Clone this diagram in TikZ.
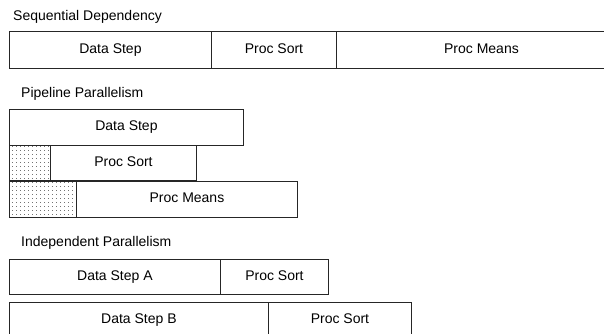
\documentclass[tikz,border=0pt]{standalone}
\usepackage{fontspec}
\setmainfont{Liberation Sans}
\usetikzlibrary{patterns}
\pgfdeclarepatternformonly{stipple}{\pgfpoint{-1pt}{-1pt}}{\pgfpoint{1pt}{1pt}}{\pgfpoint{4pt}{4pt}}{%
  \pgfpathrectangle{\pgfpoint{-0.45pt}{-0.45pt}}{\pgfpoint{0.9pt}{0.9pt}}\pgfusepath{fill}}
\begin{document}
\begin{tikzpicture}[x=1pt,y=-1pt,
  cell/.style={draw=black!85, line width=0.9pt, inner sep=0pt, anchor=north west,
    text height=10pt, text depth=3pt,
    font=\fontsize{14}{16}\selectfont},
  ttl/.style={anchor=west, inner sep=0pt, font=\fontsize{14}{16}\selectfont},
  stip/.style={cell, pattern=stipple, pattern color=black!55}]
\clip (0,0) rectangle (604,334);
% Sequential
\node[ttl] (t1) at (13,17) {Sequential Dependency};
\node[cell, minimum width=202pt, minimum height=37pt] (s1) at (9,31) {Data Step};
\node[cell, minimum width=125pt, minimum height=37pt] (s2) at (211,31) {Proc Sort};
\node[cell, minimum width=290pt, minimum height=37pt] (s3) at (336,31) {Proc Means};
% Pipeline
\node[ttl] (t2) at (21,94) {Pipeline Parallelism};
\node[cell, minimum width=234pt, minimum height=36pt] (p1) at (9,109) {Data Step};
\node[stip, minimum width=41pt, minimum height=35pt] (p2s) at (9,145) {};
\node[cell, minimum width=146pt, minimum height=35pt] (p2) at (50,145) {Proc Sort};
\node[stip, minimum width=67pt, minimum height=36pt] (p3s) at (9,181) {};
\node[cell, minimum width=221pt, minimum height=36pt] (p3) at (76,181) {Proc Means};
% Independent
\node[ttl] (t3) at (21,243) {Independent Parallelism};
\node[cell, minimum width=211pt, minimum height=35pt] (i1) at (9,259) {Data Step A};
\node[cell, minimum width=108pt, minimum height=35pt] (i2) at (220,259) {Proc Sort};
\node[cell, minimum width=259pt, minimum height=50pt, text depth=17pt] (i3) at (9,302) {Data Step B};
\node[cell, minimum width=143pt, minimum height=50pt, text depth=17pt] (i4) at (268,302) {Proc Sort};
\end{tikzpicture}
\end{document}
